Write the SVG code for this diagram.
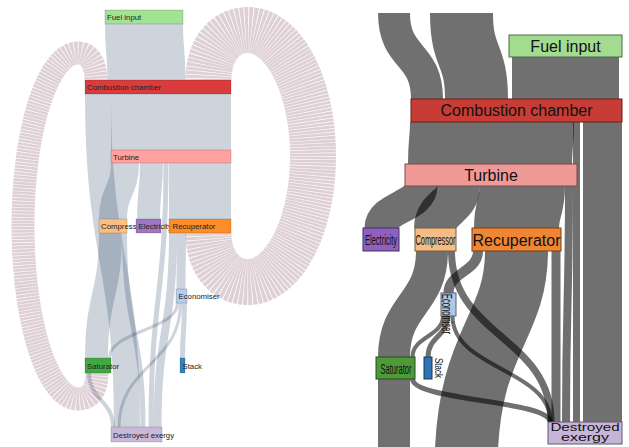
<svg xmlns="http://www.w3.org/2000/svg" width="629" height="447" viewBox="0 0 629 447">
<style>
.ll{fill:none;stroke:#0a2a50;stroke-opacity:.2}
.lc{fill:none;stroke:#dfd0d6;stroke-dasharray:2.6 .6}
.rl{fill:none;stroke:#000;stroke-opacity:.56}
.ln rect{stroke:#000;stroke-opacity:.2;stroke-width:.8}
.lt{font-family:"Liberation Sans",Arial,sans-serif;font-size:7.8px;fill:#222}
.rn rect{stroke-width:1}
.rt{font-family:"Liberation Sans",Arial,sans-serif;font-size:16px;fill:#111;text-anchor:middle}
</style>
<rect width="629" height="447" fill="#fff"/>
<g id="left-connectors">
<path class="lc" stroke-width="46" d="M208.5 233C208.5 262 225 282 248 282A65 126 0 0 0 313 156A65 126 0 0 0 248 30C225 30 208.5 50 208.5 80"/>
<path class="lc" stroke-width="23" d="M97 373C97 390 90 399 78 399A55 173 0 0 1 23 226A55 173 0 0 1 78 53C90 53 96 65 96 80"/>
<path class="ll" stroke-width="78" d="M144 24C144 52 146.5 52 146.5 80"/>
<path class="ll" stroke-width="120" d="M171 94L171 150"/>
<path class="ll" stroke-width="26" d="M98 94C98 260 127 260 127 427"/>
<path class="ll" stroke-width="28" d="M125 163C125 191 113 191 113 219"/>
<path class="ll" stroke-width="23" d="M151.5 163C151.5 191 148.5 191 148.5 219"/>
<path class="ll" stroke-width="5" d="M166 163C166 295 151 295 151 427"/>
<path class="ll" stroke-width="62" d="M200 163L200 219"/>
<path class="ll" stroke-width="23" d="M110.5 233C110.5 295.5 96.5 295.5 96.5 358"/>
<path class="ll" stroke-width="5" d="M124.5 233C124.5 330 143 330 143 427"/>
<path class="ll" stroke-width="8" d="M173 233C173 330 157.5 330 157.5 427"/>
<path class="ll" stroke-width="9" d="M181.5 233C181.5 261 181 261 181 289"/>
<path class="ll" stroke-width="3" d="M177.5 303C177.5 330.5 109.5 330.5 109.5 358"/>
<path class="ll" stroke-width="3" d="M180.5 303C180.5 365 119 365 119 427"/>
<path class="ll" stroke-width="5" d="M184.5 303C184.5 330 182.5 330 182.5 358"/>
<path class="ll" stroke-width="4" d="M89 373C89 400 113 400 113 427"/>
</g>
<g class="ln">
<g id="l-fuel"><rect x="105" y="10" width="78" height="14" fill="#98df8a" fill-opacity=".9"/><text class="lt" x="107" y="20">Fuel input</text></g>
<g id="l-cc"><rect x="85" y="80" width="146" height="14" fill="#d62728" fill-opacity=".9"/><text class="lt" x="87" y="90">Combustion chamber</text></g>
<g id="l-turbine"><rect x="111" y="150" width="120" height="13" fill="#ff9896" fill-opacity=".9"/><text class="lt" x="113" y="159.5">Turbine</text></g>
<g id="l-compressor"><rect x="99" y="219" width="28" height="14" fill="#ffbb78" fill-opacity=".9"/><text class="lt" x="101" y="229">Compress</text></g>
<g id="l-electricity"><rect x="136" y="219" width="25" height="14" fill="#9467bd" fill-opacity=".9"/><text class="lt" x="138.5" y="229">Electricity</text></g>
<g id="l-recuperator"><rect x="169" y="219" width="62" height="14" fill="#ff7f0e" fill-opacity=".9"/><text class="lt" x="172.5" y="229">Recuperator</text></g>
<g id="l-economiser"><rect x="176" y="289" width="11" height="14" fill="#aec7e8" fill-opacity=".9"/><text class="lt" x="178.5" y="299">Economiser</text></g>
<g id="l-saturator"><rect x="85" y="358" width="26" height="15" fill="#2ca02c" fill-opacity=".9"/><text class="lt" x="87" y="368.5">Saturator</text></g>
<g id="l-stack"><rect x="180" y="358" width="5" height="15" fill="#1f77b4" fill-opacity=".9"/><text class="lt" x="182.5" y="368.5">Stack</text></g>
<g id="l-destroyed"><rect x="111" y="427" width="51" height="15" fill="#c5b0d5" fill-opacity=".9"/><text class="lt" x="113" y="437.5">Destroyed exergy</text></g>
</g>
<g id="right-connectors">
<path class="rl" stroke-width="32" d="M394 13C394 60 427 52 427 99"/>
<path class="rl" stroke-width="63" d="M461.5 13C461.5 60 476.5 52 476.5 99"/>
<path class="rl" stroke-width="107" d="M565.5 57L565.5 99"/>
<path class="rl" stroke-width="164" d="M492 122C492 143 490 143 490 164"/>
<path class="rl" stroke-width="39" d="M602.5 122L602.5 422"/>
<path class="rl" stroke-width="7" d="M576.5 122L576.5 422"/>
<path class="rl" stroke-width="33" d="M421 186C421 207 381 207 381 228"/>
<path class="rl" stroke-width="43" d="M458.5 186C458.5 207 435.5 207 435.5 228"/>
<path class="rl" stroke-width="85" d="M522.5 186C522.5 207 516.5 207 516.5 228"/>
<path class="rl" stroke-width="8" d="M569 186C569 304 566 304 566 422"/>
<path class="rl" stroke-width="10" d="M478 251C478 272 448.5 272 448.5 293"/>
<path class="rl" stroke-width="63" d="M516.5 251C516.5 330 466 340 466 470"/>
<path class="rl" stroke-width="9" d="M556 251L556 422"/>
<path class="rl" stroke-width="32" d="M432 251C432 304 394 304 394 357"/>
<path class="rl" stroke-width="7" d="M451.5 251C451.5 336.5 551 336.5 551 422"/>
<path class="rl" stroke-width="4" d="M443 316C443 336.5 412.5 336.5 412.5 357"/>
<path class="rl" stroke-width="5" d="M447.5 316C447.5 336.5 428 336.5 428 357"/>
<path class="rl" stroke-width="4" d="M452.5 316C452.5 369 550.5 369 550.5 422"/>
<path class="rl" stroke-width="32" d="M394 379L394 460"/>
<path class="rl" stroke-width="5" d="M412.5 379C412.5 400.5 550 400.5 550 422"/>
</g>
<g class="rn">
<g id="r-fuel"><rect x="509" y="35" width="113" height="22" fill="#a3db90" stroke="#4a6b44"/><text class="rt" x="565.5" y="51.5">Fuel input</text></g>
<g id="r-cc"><rect x="411" y="99" width="211" height="23" fill="#c83c36" stroke="#6b1c1a"/><text class="rt" x="516.5" y="116">Combustion chamber</text></g>
<g id="r-turbine"><rect x="405" y="164" width="172" height="22" fill="#f09a98" stroke="#7a4a4a"/><text class="rt" x="491" y="180.5">Turbine</text></g>
<g id="r-electricity"><rect x="363" y="228" width="36" height="23" fill="#8e60c0" stroke="#45315d"/><text class="rt" style="font-size:15px" transform="translate(381 245) scale(0.5 1)">Electricity</text></g>
<g id="r-compressor"><rect x="415" y="228" width="41" height="23" fill="#f5bc83" stroke="#7a5b3f"/><text class="rt" style="font-size:15px" transform="translate(435.5 245) scale(0.49 1)">Compressor</text></g>
<g id="r-recuperator"><rect x="472" y="228" width="89" height="23" fill="#ee8634" stroke="#7a3f12"/><text class="rt" x="516.5" y="245.5">Recuperator</text></g>
<g id="r-economiser"><rect x="441" y="293" width="15" height="23" fill="#aec7e8" stroke="#566272"/><text class="rt" style="font-size:15px;text-anchor:start" transform="translate(442 294) rotate(90) scale(0.505 1)">Economiser</text></g>
<g id="r-saturator"><rect x="376" y="357" width="39" height="22" fill="#4e9a3a" stroke="#244a1b"/><text class="rt" style="font-size:14px" transform="translate(396 373.5) scale(0.54 1)">Saturator</text></g>
<g id="r-stack"><rect x="424" y="357" width="8" height="22" fill="#2f73b3" stroke="#173857"/><text class="rt" style="font-size:10px;text-anchor:start" transform="translate(435 358) rotate(90) scale(0.8 1)">Stack</text></g>
<g id="r-destroyed"><rect x="548" y="422" width="74" height="22" fill="#c7b5d9" stroke="#625769"/><text class="rt" style="font-size:10px" transform="translate(585 430.5) scale(1.52 1)">Destroyed</text><text class="rt" style="font-size:10px" transform="translate(585 441) scale(1.6 1)">exergy</text></g>
</g>
</svg>
